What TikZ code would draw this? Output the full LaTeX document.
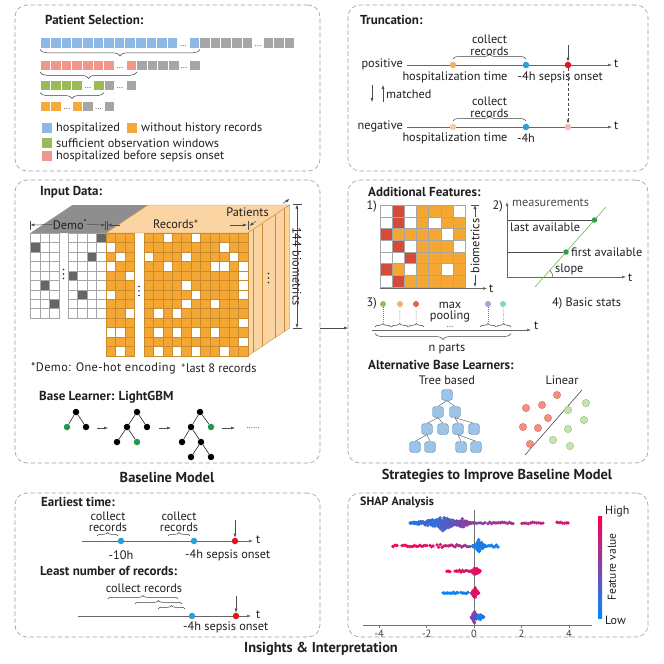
\documentclass[tikz,border=0pt]{standalone}
\usepackage{fontspec}
\setmainfont{PT Sans}
\usetikzlibrary{arrows.meta,decorations.pathreplacing,calc}
\definecolor{txt}{HTML}{231F20}
\definecolor{pblue}{HTML}{8DB8E6}
\definecolor{pred}{HTML}{F2958A}
\definecolor{pgreen}{HTML}{9BBB59}
\definecolor{porange}{HTML}{F5A93B}
\definecolor{pgrey}{HTML}{A6A6A6}
\definecolor{dorange}{HTML}{F3B06C}
\definecolor{dblue}{HTML}{2A9FDB}
\definecolor{dred}{HTML}{E3151C}
\definecolor{lorange}{HTML}{F8CCA4}
\definecolor{lred}{HTML}{F6B9B3}
\definecolor{peach}{HTML}{FBD4A3}
\definecolor{topgrey}{HTML}{8E8E8E}
\definecolor{darkcell}{HTML}{666666}
\definecolor{cellorange}{HTML}{F4A733}
\definecolor{recl}{HTML}{C98A30}
\definecolor{cellred}{HTML}{D64A3B}
\definecolor{tgreen}{HTML}{1E9A4A}
\definecolor{nodeblue}{HTML}{9DC3E6}
\definecolor{nodeblued}{HTML}{5B8DC0}
\definecolor{sred}{HTML}{F29080}
\definecolor{sredd}{HTML}{DD6A55}
\definecolor{sgreen}{HTML}{C8E2B2}
\definecolor{sgreend}{HTML}{8CBF6A}
\definecolor{shapred}{HTML}{FF0052}
\definecolor{shapblue}{HTML}{008BFB}
\definecolor{lgreen}{HTML}{6CC04A}
\definecolor{ddgreen}{HTML}{2EA043}
\definecolor{pc1}{HTML}{9BBB59}
\definecolor{pc2}{HTML}{F3B06C}
\definecolor{pc3}{HTML}{E8604C}
\definecolor{pc4}{HTML}{B29BD0}
\definecolor{pc5}{HTML}{7DD9C0}
\newcommand\cells[4]{\foreach \i in {1,...,#3}{\filldraw[fill=#4, draw=white, line width=0.7pt] ({#1+(\i-1)*10.6},#2) rectangle ++(10.6,10.6);}}
\newcommand\shseg[7]{\foreach \k in {0,...,#4}{%
  \pgfmathsetmacro\shT{\k/#4}%
  \pgfmathsetmacro\shX{#2+(#3-#2)*\shT}%
  \pgfmathsetmacro\shY{#1+#5*rand}%
  \pgfmathtruncatemacro\shP{max(0,min(100,#6+(#7-#6)*\shT))}%
  \fill[shapred!\shP!shapblue] (\shX,\shY) circle[radius=1.8];}}
\newcommand\shblob[7]{\foreach \k in {1,...,#4}{%
  \pgfmathsetmacro\shU{rand}%
  \pgfmathsetmacro\shV{rand}%
  \pgfmathsetmacro\shX{#2+#3*\shU}%
  \pgfmathsetmacro\shY{#1+#5*(1-abs(\shU))*\shV}%
  \pgfmathtruncatemacro\shP{max(0,min(100,#6+(#7-#6)*(\shU+1)/2+8*rand))}%
  \fill[shapred!\shP!shapblue] (\shX,\shY) circle[radius=1.8];}}
\begin{document}
\begin{tikzpicture}[x=1pt,y=-1pt,
  panel/.style={draw=black!38, dash pattern=on 4.5pt off 2.5pt, rounded corners=12pt, line width=0.6pt, inner sep=0pt, outer sep=0pt, anchor=north west},
  lbl/.style={font=\fontsize{12.3}{9.8}\selectfont, inner sep=0pt, text=txt},
  ttl/.style={font=\bfseries\fontsize{13}{14}\selectfont, anchor=west, inner sep=0pt, text=txt},
  sect/.style={font=\bfseries\fontsize{14.4}{16}\selectfont, inner sep=0pt, text=txt},
  arr/.style={-{Latex[length=4pt,width=3pt]}, line width=0.5pt, draw=black!70},
  tl/.style={line width=0.5pt, draw=black!60, -{Latex[length=4pt,width=3pt]}},
  dotn/.style={circle, inner sep=0pt, minimum size=6.5pt},
  brc/.style={decorate, decoration={brace, amplitude=#1}, line width=0.5pt, draw=black!75},
  bd/.style={circle, fill=black, inner sep=0pt, minimum size=6.5pt},
  gd/.style={bd, fill=tgreen},
  tree/.style={line width=0.5pt, draw=black},
  tn/.style={rectangle, rounded corners=3pt, fill=nodeblue, draw=nodeblued, line width=0.4pt, minimum size=11pt, inner sep=0pt},
  rsc/.style={circle, fill=sred, draw=sredd, line width=0.4pt, minimum size=7.4pt, inner sep=0pt},
  gsc/.style={circle, fill=sgreen, draw=sgreend, line width=0.4pt, minimum size=7.4pt, inner sep=0pt},
  gridl/.style={draw=black!35, line width=0.35pt},
  sdot/.style={font=\fontsize{8}{8}\selectfont, inner sep=0pt, text=txt},
  bl/.style={lbl, anchor=base}]
\useasboundingbox (0,0) rectangle (664,664);
\fill[white] (0,0) rectangle (664,664);

% ---------- panels ----------
\node[panel, minimum width=305pt, minimum height=166pt] (P1) at (15,5) {};
\node[panel, minimum width=300pt, minimum height=166pt] (P2) at (348,5) {};
\node[panel, minimum width=305pt, minimum height=283pt] (P3) at (15,180) {};
\node[panel, minimum width=300pt, minimum height=283pt] (P4) at (348,180) {};
\node[panel, minimum width=305pt, minimum height=144pt] (P5) at (15,493) {};
\node[panel, minimum width=300pt, minimum height=144pt] (P6) at (348,493) {};
\draw[arr] ([yshift=-6.5pt]P3.east) -- ([yshift=-6.5pt]P4.west);

\node[sect] (S1) at (167,477) {Baseline Model};
\node[sect] (S2) at (497,476) {Strategies to Improve Baseline Model};
\node[sect] (S3) at (321,649) {Insights \& Interpretation};

% ---------- Patient selection ----------
\node[ttl] (t1) at (45,20) {Patient Selection:};
\cells{40}{37.7}{13}{pblue}
\node[sdot] (e1) at (183.5,46) {...};
\cells{189}{37.7}{1}{pblue}
\cells{199.6}{37.7}{5}{pgrey}
\node[sdot] (e2) at (258,46) {...};
\cells{263}{37.7}{3}{pgrey}
\cells{40}{60}{7}{pred}
\node[sdot] (e3) at (120,68) {...};
\cells{126}{60}{1}{pred}
\cells{136.6}{60}{4}{pgrey}
\node[sdot] (e4) at (184,68) {...};
\cells{189.5}{60}{1}{pgrey}
\cells{40}{80}{4}{pgreen}
\node[sdot] (e5) at (88,88) {...};
\cells{93.4}{80}{1}{pgreen}
\cells{104}{80}{1}{pgrey}
\node[sdot] (e6) at (120,88) {...};
\cells{126}{80}{1}{pgrey}
\cells{40}{101}{2}{porange}
\node[sdot] (e7) at (67,109) {...};
\cells{72}{101}{1}{porange}
\cells{82.6}{101}{1}{pgrey}
\node[sdot] (e8) at (98.5,109) {...};
\cells{104}{101}{1}{pgrey}
\draw[brc=6.5pt] (200,49.5) -- (40,49.5);
\draw[brc=6.5pt] (137,72) -- (40,72);
\draw[brc=6pt] (104,92.5) -- (40,92.5);
\fill[pblue] (42,123) rectangle ++(10,10);
\fill[porange] (127,123) rectangle ++(10,10);
\fill[pgreen] (42,138) rectangle ++(10,10);
\fill[pred] (42,151) rectangle ++(10,10);
\node[lbl, anchor=west] (lg1) at (56,128) {hospitalized};
\node[lbl, anchor=west] (lg2) at (141,128) {without history records};
\node[lbl, anchor=west] (lg3) at (56,143) {sufficient observation windows};
\node[lbl, anchor=west] (lg4) at (56,156) {hospitalized before sepsis onset};

% ---------- Truncation ----------
\node[ttl] (t2) at (360,20) {Truncation:};
\node[lbl, anchor=east] (posL) at (403,64) {positive};
\coordinate (posS) at (407,65);
\coordinate (posE) at (612,65);
\draw[tl] (posS) -- (posE);
\node[lbl, anchor=west] (posT) at (614,63.5) {t};
\node[dotn, fill=dorange] (pH) at (453,65) {};
\node[dotn, fill=dblue] (p4) at (526,65) {};
\node[dotn, fill=dred] (pS) at (568,65) {};
\draw[brc=5pt] (453,59) -- (526,59);
\node[bl] (pc1) at (489.5,43.5) {collect};
\node[bl] (pc2) at (489.5,55) {records};
\coordinate (pA) at (568,45);
\draw[arr] (pA) -- (pS);
\node[lbl] (pl1) at (455,77.5) {hospitalization time};
\node[lbl, anchor=west] (pl2) at (517.5,77.5) {-4h sepsis onset};
\coordinate (m1) at (372,85); \coordinate (m2) at (372,102);
\coordinate (m3) at (383,102); \coordinate (m4) at (383,85);
\draw[arr] (m1) -- (m2);
\draw[arr] (m3) -- (m4);
\node[lbl, anchor=west] (mt) at (386,94) {matched};
\node[lbl, anchor=east] (negL) at (403,126) {negative};
\coordinate (negS) at (407,127);
\coordinate (negE) at (612,127);
\draw[tl] (negS) -- (negE);
\node[lbl, anchor=west] (negT) at (614,125.5) {t};
\node[dotn, fill=lorange] (nH) at (453,127) {};
\node[dotn, fill=dblue] (n4) at (526,127) {};
\node[dotn, fill=lred] (nS) at (568,127) {};
\draw[brc=5pt] (453,121) -- (526,121);
\node[bl] (nc1) at (489.5,105.5) {collect};
\node[bl] (nc2) at (489.5,117) {records};
\draw[arr, dash pattern=on 3pt off 2pt] (pS.south) -- (nS.north);
\node[lbl] (nl1) at (455,138.5) {hospitalization time};
\node[lbl] (nl2) at (526,138.5) {-4h};

% ---------- Input data ----------
\node[ttl] (t3) at (40,192) {Input Data:};
\fill[topgrey] (30.4,233) -- (106,233) -- (148,205) -- (72.4,205) -- cycle;
\filldraw[fill=peach, draw=recl, line width=0.4pt] (106,233) -- (247.75,233) -- (289.75,205) -- (148,205) -- cycle;
\filldraw[fill=peach, draw=recl, line width=0.4pt] (247.75,233) -- (289.75,205) -- (289.75,327.9) -- (247.75,355.9) -- cycle;
\foreach \xa/\ya/\yb in {253/229.5/352.4, 262/223.5/346.4, 275/214.8/337.7, 284/208.8/331.7}
  \draw[recl, line width=0.4pt] (\xa,\ya) -- (\xa,\yb);
\foreach \r in {0,...,8}{\foreach \c in {0,1,2,4,5,6,7}{
  \filldraw[gridl, fill=white] ({30.4+\c*9.45},{233+\r*9.45}) rectangle ++(9.45,9.45);}}
\foreach \c/\r in {7/0,0/1,6/2,4/4,1/5,5/6,2/7}
  \filldraw[gridl, fill=darkcell] ({30.4+\c*9.45},{233+\r*9.45}) rectangle ++(9.45,9.45);
\foreach \r in {0,...,12}{\foreach \c in {0,1,2,4,5,6,7,8,9,10,11,12,13,14}{
  \filldraw[fill=cellorange, draw=recl, line width=0.35pt] ({106+\c*9.45},{233+\r*9.45}) rectangle ++(9.45,9.45);}}
\foreach \c/\r in {6/0,9/0,0/1,12/1,1/2,4/2,8/2,13/2,0/3,6/3,11/3,12/3,14/3,2/4,14/4,8/5,14/5,0/6,9/6,14/6,8/7,11/7,2/8,5/8,7/8,14/9,0/10,1/10,5/10,7/10,9/10,11/10,14/11,1/12,5/12,7/12,9/12,12/12}
  \filldraw[fill=white, draw=recl, line width=0.35pt] ({106+\c*9.45},{233+\r*9.45}) rectangle ++(9.45,9.45);
\foreach \xa/\ya in {63.5/274, 139/291, 268.5/278}{
  \foreach \d in {-4.5,0,4.5} \fill[black!85] (\xa,\ya+\d) circle[radius=0.8];}
% dimensions
\node[lbl] (dm) at (70,224.5) {Demo\textsuperscript{*}};
\draw[arr] (dm.west) -- (30.4,225);
\draw[arr] (dm.east) -- (105.5,225);
\draw[black!70, line width=0.5pt] (30.4,220.5) -- (30.4,229.5) (105.5,220.5) -- (105.5,229.5) (107.5,220.5) -- (107.5,229.5);
\node[lbl] (rc) at (176,224.5) {Records\textsuperscript{+}};
\coordinate (rcL) at (120,225); \coordinate (rcR) at (230,225);
\draw[arr] (rcL) -- (107.5,225);
\draw[arr] (rcR) -- (247,225);
\draw[black!70, line width=0.5pt] (247.75,220.5) -- (247.75,229.5);
\node[lbl] (pat) at (247.5,212.5) {Patients};
\draw[arr] (256,221.3) -- (249.5,225.8);
\draw[arr] (283,203.4) -- (289.5,199);
\node[lbl, rotate=-90, fill=white, inner sep=1pt] (bio) at (297,266.5) {144 biometrics};
\draw[arr] (bio.east) -- (297,204.5);
\draw[arr] (bio.west) -- (297,328);
\draw[black!70, line width=0.5pt] (292.5,204.5) -- (301.5,204.5) (292.5,328) -- (301.5,328);
\node[lbl, anchor=west] (fn1) at (31,368) {\addfontfeature{LetterSpace=3}*Demo: One-hot encoding};
\node[lbl, anchor=west] (fn2) at (181,368) {\textsuperscript{+}last 8 records};
\node[ttl] (t4) at (39,397) {Base Learner: LightGBM};
% trees
\node[bd] (a0) at (76,412) {}; \node[gd] (a1) at (67,427) {}; \node[bd] (a2) at (86,427) {};
\draw[tree] (a0) -- (a1) (a0) -- (a2);
\node[bd] (b0) at (137,412) {}; \node[bd] (b1) at (127,427) {}; \node[bd] (b2) at (147,427) {};
\node[bd] (b3) at (117,442) {}; \node[gd] (b4) at (137,442) {};
\draw[tree] (b0) -- (b1) (b0) -- (b2) (b1) -- (b3) (b1) -- (b4);
\node[bd] (c0) at (200,412) {}; \node[bd] (c1) at (191,427) {}; \node[gd] (c2) at (211,427) {};
\node[bd] (c3) at (182,442) {}; \node[bd] (c4) at (201,442) {};
\node[bd] (c5) at (191,457) {}; \node[bd] (c6) at (211,457) {};
\draw[tree] (c0) -- (c1) (c0) -- (c2) (c1) -- (c3) (c1) -- (c4) (c4) -- (c5) (c4) -- (c6);
\coordinate (ga1) at (97,428); \coordinate (gb1) at (108,428);
\coordinate (ga2) at (159,428); \coordinate (gb2) at (171,428);
\coordinate (ga3) at (222,428); \coordinate (gb3) at (235,428);
\draw[arr] (ga1) -- (gb1); \draw[arr] (ga2) -- (gb2); \draw[arr] (ga3) -- (gb3);
\node[sdot] (more) at (253,428) {......};

% ---------- Additional features ----------
\node[ttl] (t5) at (368,191.5) {Additional Features:};
\node[lbl, anchor=east] (f1) at (377,206) {1)};
\foreach \r in {0,...,6}{\foreach \c in {0,...,6}{
  \filldraw[fill=cellorange, gridl] ({380+\c*12.14},{205+\r*11.7}) rectangle ++(12.14,11.7);}}
\foreach \c/\r in {0/0,2/0,6/0,0/1,2/1,4/1,5/2,0/3,2/3,6/3,0/4,1/4,2/5,5/5,0/6}
  \filldraw[fill=white, gridl] ({380+\c*12.14},{205+\r*11.7}) rectangle ++(12.14,11.7);
\foreach \c/\r in {1/0,1/1,0/2,1/3,2/4,0/5,1/6}
  \filldraw[fill=cellred, gridl] ({380+\c*12.14},{205+\r*11.7}) rectangle ++(12.14,11.7);
\node[lbl, rotate=90, fill=white, inner sep=1pt] (bm) at (475,246) {biometrics};
\draw[arr] (bm.east) -- (475,205);
\draw[arr] (bm.west) -- (475,287);
\draw[black!70, line width=0.5pt] (471,205) -- (479,205);
\coordinate (gx0) at (380,288.5); \coordinate (gx1) at (487,288.5);
\draw[tl] (gx0) -- (gx1);
\node[lbl, anchor=west] (gt) at (489,289) {t};
% plot 2
\node[lbl, anchor=east] (f2) at (503,206) {2)};
\coordinate (o2) at (507,277);
\coordinate (y2) at (507,202);
\coordinate (x2) at (626,277);
\draw[tl] (o2) -- (y2);
\draw[tl] (o2) -- (x2);
\node[lbl, anchor=west, text=black!70] (meas) at (512,203) {measurements};
\node[lbl, anchor=west] (xt2) at (628,278) {t};
\coordinate (gl0) at (535,287); \coordinate (gl1) at (606,207);
\draw[lgreen, line width=0.6pt] (gl0) -- (gl1);
\node[dotn, fill=ddgreen, minimum size=5.5pt] (la) at (594.5,220) {};
\node[dotn, fill=ddgreen, minimum size=5.5pt] (fa) at (566,252) {};
\coordinate (la0) at (507,220); \coordinate (fa0) at (507,252);
\draw[black!70, line width=0.5pt] (la0) -- (la) (fa0) -- (fa);
\node[lbl, anchor=north west] (lat) at (510,222.5) {last available};
\node[lbl, anchor=west] (fat) at (571,252) {first available};
\draw[black!70, line width=0.5pt] (552.9,277) .. controls (552.9,274.5) and (551.8,272) .. (549.9,270.3);
\node[lbl, anchor=west] (slp) at (555,269.5) {slope};
% pooling
\node[lbl, anchor=east] (f3) at (377,303) {3)};
\node[dotn, fill=pc1, minimum size=6pt] (q1) at (383,304) {};
\node[dotn, fill=pc2, minimum size=6pt] (q2) at (400,304) {};
\node[dotn, fill=pc3, minimum size=6pt] (q3) at (416,304) {};
\node[dotn, fill=pc4, minimum size=6pt] (q4) at (488,304) {};
\node[dotn, fill=pc5, minimum size=6pt] (q5) at (503,304) {};
\foreach \q/\xa/\xb in {q1/375/391, q2/391.5/408, q3/408.5/424, q4/480/496, q5/496.5/511}{
  \draw[brc=3.5pt] (\xa,327) -- (\xb,327);
  \draw[black!50, line width=0.4pt, dash pattern=on 1pt off 1pt] (\q.south) -- ({(\xa+\xb)/2},323);
}
\coordinate (pa0) at (372,330); \coordinate (pa1) at (531,330);
\draw[tl] (pa0) -- (pa1);
\node[lbl, anchor=west] (pt) at (534,326) {t};
\node[bl] (mp1) at (450,308.5) {max};
\node[bl] (mp2) at (450,319.5) {pooling};
\node[sdot] (mpd) at (450,326.8) {...};
\draw[brc=6pt] (511,333.5) -- (375,333.5);
\node[lbl] (np) at (447,348.5) {n parts};
\node[lbl, anchor=west] (bs) at (552,303) {4) Basic stats};
% alternative learners
\node[ttl] (t6) at (368,365) {Alternative Base Learners:};
\node[lbl] (tb) at (447,380) {Tree based};
\node[lbl] (lin) at (562,380) {Linear};
\node[tn] (n0) at (447,395) {};
\node[tn] (n1) at (438,412) {}; \node[tn] (n2) at (455,412) {};
\node[tn] (n3) at (427,429) {}; \node[tn] (n4) at (443,429) {};
\node[tn] (n5) at (458,429) {}; \node[tn] (n6) at (474,429) {};
\node[tn] (n7) at (415,447) {}; \node[tn] (n8) at (430,447) {};
\node[tn] (n9) at (461,447) {}; \node[tn] (n10) at (476,447) {};
\foreach \u/\v in {n0/n1,n0/n2,n1/n3,n1/n4,n2/n5,n2/n6,n3/n7,n3/n8,n5/n9,n5/n10}
  \draw[black!70, line width=0.4pt] (\u.south) -- (\v.north);
\coordinate (ln0) at (525,455); \coordinate (ln1) at (582,390);
\draw[black!80, line width=0.5pt] (ln0) -- (ln1);
\foreach \xa/\ya [count=\i] in {526/408,542/405,557/395,548/418,523/427,538/428,530/444}
  \node[rsc] (r\i) at (\xa,\ya) {};
\foreach \xa/\ya [count=\i] in {586/403,568/410,584/420,568/429,553/440,570/446}
  \node[gsc] (g\i) at (\xa,\ya) {};

% ---------- Insights ----------
\node[ttl] (t7) at (41,502) {Earliest time:};
\coordinate (e1s) at (82,541); \coordinate (e1e) at (253,541);
\draw[tl] (e1s) -- (e1e);
\node[lbl, anchor=west] (e1t) at (256,539.5) {t};
\node[dotn, fill=dblue] (e10) at (121,541) {};
\node[dotn, fill=dblue] (e4) at (194,541) {};
\node[dotn, fill=dred] (eS) at (235,541) {};
\draw[brc=3.5pt] (97,536) -- (118,536);
\draw[brc=3.5pt] (168,536) -- (190,536);
\node[bl] (ec1a) at (108,520.5) {collect};
\node[bl] (ec1b) at (108,531.2) {records};
\node[bl] (ec2a) at (179,520.5) {collect};
\node[bl] (ec2b) at (179,531.2) {records};
\coordinate (eA) at (235,520);
\draw[arr] (eA) -- (eS);
\node[lbl] (e10l) at (121,555) {-10h};
\node[lbl, anchor=west] (e4l) at (185,555) {-4h sepsis onset};
\node[ttl] (t8) at (40,571) {Least number of records:};
\node[lbl] (lc) at (144,588) {collect records};
\draw[brc=3.5pt] (108,599) -- (178,599);
\draw[brc=3.5pt] (135,604) -- (182,604);
\draw[brc=3.5pt] (158,609) -- (185,609);
\coordinate (l1s) at (78,616); \coordinate (l1e) at (251,616);
\draw[tl] (l1s) -- (l1e);
\node[lbl, anchor=west] (l1t) at (256,614.5) {t};
\node[dotn, fill=dblue] (l4) at (192,616) {};
\node[dotn, fill=dred] (lS) at (236,616) {};
\coordinate (lA) at (236,596);
\draw[arr] (lA) -- (lS);
\node[lbl, anchor=west] (l4l) at (183,627.5) {-4h sepsis onset};

% ---------- SHAP ----------
\node[ttl, font=\bfseries\fontsize{12}{13}\selectfont] (t9) at (360,502) {SHAP Analysis};
\coordinate (sx0) at (363,625); \coordinate (sx1) at (592,625);
\draw[black!55, line width=0.6pt] (sx0) -- (sx1);
\coordinate (sz0) at (474,510); \coordinate (sz1) at (474,625);
\draw[black!55, line width=0.6pt] (sz0) -- (sz1);
\foreach \v/\lab in {-4/-4,-2/-2,0/0,2/2,4/4}{
  \draw[black!55, line width=0.5pt] ({474+23.75*\v},625) -- ({474+23.75*\v},628);
  \node[lbl, font=\fontsize{10.5}{11}\selectfont, text=black!75] at ({474+23.75*\v},634) {\lab};
}
\pgfmathsetseed{42}
% row 1
\shblob{523}{442}{32}{160}{4.5}{15}{55}
\shblob{523}{443}{14}{120}{8}{20}{40}
\shblob{523}{462}{9}{40}{5}{40}{55}
\shseg{523}{475}{485}{5}{0.8}{50}{55}
\shseg{523}{488}{513}{14}{0.8}{60}{68}
\shseg{523}{522}{543}{10}{0.8}{70}{75}
\shseg{523}{557}{568}{6}{0.8}{80}{85}
% row 2
\shseg{546}{393}{397}{2}{0.8}{97}{97}
\shseg{546}{402}{427}{14}{0.8}{97}{90}
\shseg{546}{430}{433}{2}{0.8}{90}{90}
\shseg{546}{437}{470}{20}{1.5}{88}{55}
\shblob{546}{479}{6.5}{60}{6.5}{5}{15}
\shseg{546}{485}{498}{8}{1}{5}{5}
% row 3
\shseg{571}{447}{450}{2}{0.8}{97}{97}
\shseg{571}{455}{470}{10}{1}{95}{85}
\shblob{571}{475.5}{4.5}{40}{5.5}{85}{95}
% row 4
\shseg{593}{443}{458}{10}{0.8}{5}{5}
\shseg{593}{461}{468}{5}{0.8}{8}{8}
\shblob{593}{475}{3.5}{40}{6.5}{82}{95}
% row 5
\shblob{617}{474.5}{3.5}{35}{6.5}{40}{55}
\shblob{617}{480}{4}{18}{3}{5}{15}
% colorbar
\shade[top color=shapred, bottom color=shapblue] (598,516) rectangle (602,618);
\node[lbl, anchor=west, font=\fontsize{12}{12}\selectfont] (hi) at (605,512) {High};
\node[lbl, anchor=west, font=\fontsize{12}{12}\selectfont] (lo) at (605,620) {Low};
\node[lbl, rotate=90, font=\fontsize{11.5}{12}\selectfont] (fv) at (612,567) {Feature value};
\end{tikzpicture}
\end{document}
